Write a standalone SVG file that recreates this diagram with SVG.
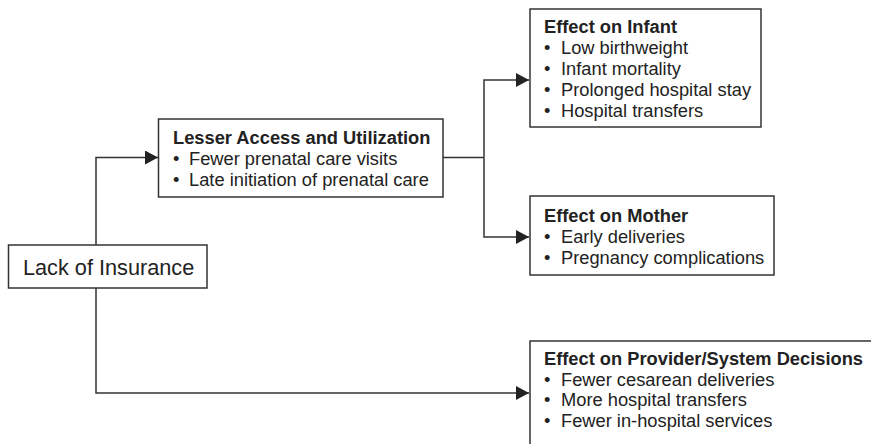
<svg xmlns="http://www.w3.org/2000/svg" width="871" height="444" viewBox="0 0 871 444">
<defs>
<style>
.box{fill:#fff;stroke:#333;stroke-width:1.5}
.t{font-family:"Liberation Sans",Arial,sans-serif;font-size:18.3px;fill:#222}
.b{font-weight:bold}
.big{font-size:21.7px}
.c{fill:none;stroke:#333;stroke-width:1.5}
</style>
<marker id="ah" markerWidth="13" markerHeight="14" refX="13" refY="7" orient="auto" markerUnits="userSpaceOnUse">
<path d="M0,0 L13,7 L0,14 Z" fill="#222"/>
</marker>
</defs>
<rect width="871" height="444" fill="#fff"/>
<g id="connectors">
<path class="c" d="M96,245 V157.5 H158" marker-end="url(#ah)"/>
<path class="c" d="M96,288 V393 H529" marker-end="url(#ah)"/>
<path class="c" d="M443,157.5 H484"/>
<path class="c" d="M484,157.5 V80 H529" marker-end="url(#ah)"/>
<path class="c" d="M484,157.5 V237 H529" marker-end="url(#ah)"/>
</g>
<g id="lack">
<rect class="box" x="8.5" y="245" width="198.5" height="43"/>
<text class="t big" x="23" y="275">Lack of Insurance</text>
</g>
<g id="access">
<rect class="box" x="158.5" y="119" width="284.5" height="78"/>
<text class="t b" x="173" y="144">Lesser Access and Utilization</text>
<text class="t" x="173" y="165">•</text><text class="t" x="189" y="165">Fewer prenatal care visits</text>
<text class="t" x="173" y="186">•</text><text class="t" x="189" y="186">Late initiation of prenatal care</text>
</g>
<g id="infant">
<rect class="box" x="530" y="9" width="231" height="118"/>
<text class="t b" x="544" y="33">Effect on Infant</text>
<text class="t" x="544" y="54">•</text><text class="t" x="561" y="54">Low birthweight</text>
<text class="t" x="544" y="75">•</text><text class="t" x="561" y="75">Infant mortality</text>
<text class="t" x="544" y="96">•</text><text class="t" x="561" y="96">Prolonged hospital stay</text>
<text class="t" x="544" y="117">•</text><text class="t" x="561" y="117">Hospital transfers</text>
</g>
<g id="mother">
<rect class="box" x="530" y="196" width="244" height="79"/>
<text class="t b" x="544" y="222">Effect on Mother</text>
<text class="t" x="544" y="243">•</text><text class="t" x="561" y="243">Early deliveries</text>
<text class="t" x="544" y="264">•</text><text class="t" x="561" y="264">Pregnancy complications</text>
</g>
<g id="provider">
<rect class="box" x="530" y="341" width="360" height="120"/>
<text class="t b" x="544" y="365">Effect on Provider/System Decisions</text>
<text class="t" x="544" y="386">•</text><text class="t" x="561" y="386">Fewer cesarean deliveries</text>
<text class="t" x="544" y="406">•</text><text class="t" x="561" y="406">More hospital transfers</text>
<text class="t" x="544" y="427">•</text><text class="t" x="561" y="427">Fewer in-hospital services</text>
</g>
</svg>
